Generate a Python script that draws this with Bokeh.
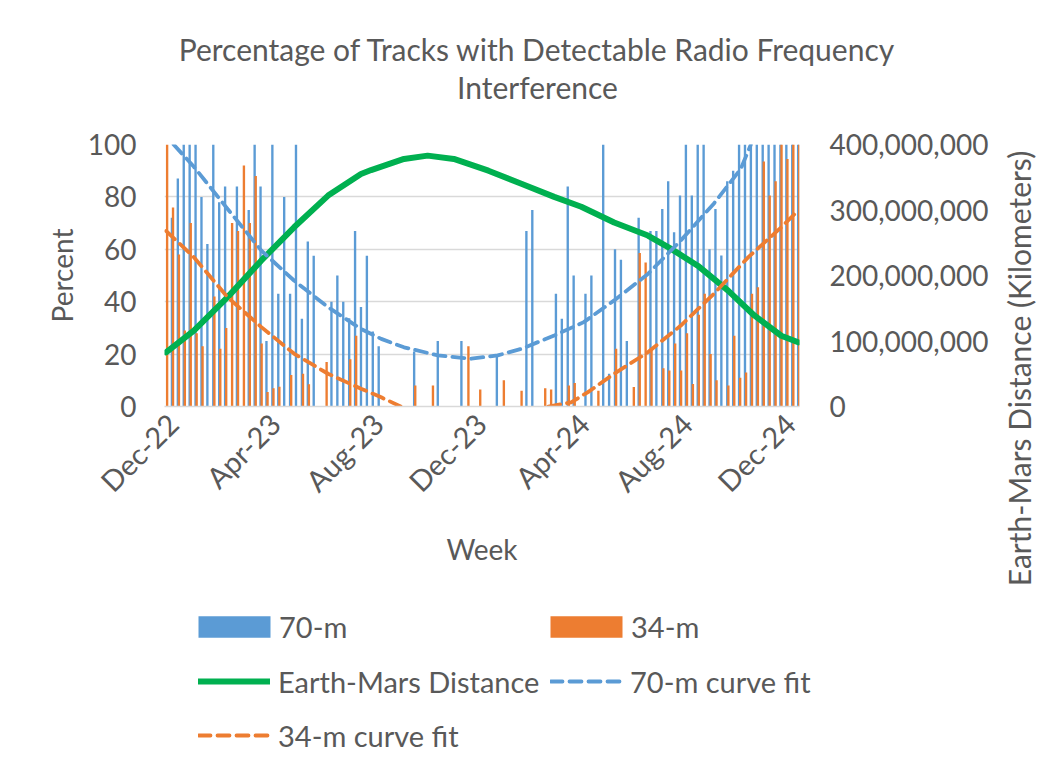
import math
import pandas as pd
from bokeh.plotting import figure
from bokeh.layouts import column, row
from bokeh.core.properties import value
from bokeh.models import (ColumnDataSource, Range1d, LinearAxis, FixedTicker,
                          DatetimeTickFormatter, NumeralTickFormatter, Legend,
                          LegendItem)
from bokeh.embed import file_html
from bokeh.resources import INLINE

# ---------------- data ----------------
first_week = "2022-11-23"
n_weeks = 108

pct_70m = [0, 72, 87, 100, 100, 100, 80, 62, 100, 78,
           84, 0, 84, 0, 75, 100, 84, 25, 100, 43,
           80, 43, 100, 33.5, 63, 57.5, 0, 0, 40, 50,
           40, 33.7, 67, 38, 57.5, 28.6, 23, 0, 0, 0,
           0, 0, 21, 0, 0, 0, 25, 0, 0, 0,
           25, 0, 0, 0, 0, 0, 20, 0, 0, 0,
           0, 67, 75, 0, 0, 0, 43, 33.5, 84, 50,
           0, 43, 50, 0, 100, 12.5, 60, 56, 25, 0,
           72, 0, 67, 67, 75.4, 86, 66.5, 80.5, 100, 80.5,
           100, 100, 60, 75.4, 57.6, 86, 90, 100, 100, 100,
           100, 100, 100, 100, 100, 100, 100, 100]

pct_34m = [100, 76, 58, 29, 70, 28, 23, 0, 42, 22,
           30, 70, 67, 92, 70, 88, 24, 5.5, 7, 7.5,
           0, 12, 0, 12.5, 8.5, 0, 0, 17, 0, 0,
           0, 18, 27, 0, 0, 0, 0, 0, 0, 0,
           0, 0, 8, 0, 0, 8, 0, 0, 0, 0,
           0, 23, 0, 6.5, 0, 0, 0, 10, 0, 0,
           6, 0, 0, 0, 7, 6.5, 0, 0, 8, 9,
           0, 0, 0, 6, 0, 0, 22, 0, 0, 7.4,
           58.6, 55, 22, 0, 14.6, 13.7, 24, 13.7, 28, 8.6,
           35, 43, 20, 10, 0, 8, 27, 11, 13, 43,
           45.5, 93.5, 80.5, 86, 100, 94.5, 100, 100]

dist_dates = ["2022-11-23", "2022-12-26", "2023-02-04", "2023-03-16", "2023-04-24",
              "2023-06-03", "2023-07-12", "2023-07-24", "2023-09-01", "2023-09-29",
              "2023-10-30", "2023-12-10", "2024-01-18", "2024-02-26", "2024-03-29",
              "2024-05-07", "2024-06-16", "2024-07-13", "2024-08-14", "2024-09-19",
              "2024-10-20", "2024-11-21", "2024-12-11"]
dist_km = [82_800_000, 116_000_000, 167_000_000, 223_000_000, 274_000_000,
           322_000_000, 355_000_000, 361_000_000, 378_000_000, 383_000_000,
           378_000_000, 360_000_000, 340_000_000, 320_000_000, 305_000_000,
           281_000_000, 261_000_000, 241_000_000, 215_000_000, 177_000_000,
           139_000_000, 108_000_000, 98_000_000]

fit70_dates = ["2022-12-02", "2022-12-26", "2023-02-04", "2023-03-16", "2023-04-24",
               "2023-06-03", "2023-07-12", "2023-08-05", "2023-09-01", "2023-10-11",
               "2023-11-19", "2023-12-21", "2024-01-18", "2024-02-26", "2024-04-01",
               "2024-05-07", "2024-06-16", "2024-07-25", "2024-09-02", "2024-10-04",
               "2024-10-16"]
fit70_pct = [100, 91.5, 75.4, 59.5, 48, 37.9, 29.6, 25.8, 22.6, 19.5,
             18.2, 19.5, 22, 27.1, 32.2, 40.5, 50.6, 63.4, 77.4, 90.7, 100]

fit34_dates = ["2022-11-23", "2022-12-26", "2023-02-04", "2023-03-16", "2023-04-24",
               "2023-06-03", "2023-07-12", "2023-08-05", "2023-08-28", "2023-11-19",
               "2024-02-19", "2024-03-17", "2024-04-06", "2024-05-07", "2024-06-16",
               "2024-07-25", "2024-09-02", "2024-10-13", "2024-11-21", "2024-12-11"]
fit34_pct = [67, 57, 41.7, 30.3, 20.1, 12.5, 6.8, 3.5, 0, float("nan"),
             0, 1.6, 5.5, 12.5, 20.7, 30.9, 43, 57, 68.4, 74.8]

tick_dates = ["2022-12-01", "2023-04-01", "2023-08-01", "2023-12-01",
              "2024-04-01", "2024-08-01", "2024-12-01"]
pct_ticks = [0, 20, 40, 60, 80, 100]
dist_ticks = [0, 100_000_000, 200_000_000, 300_000_000, 400_000_000]

title_lines = ["Percentage of Tracks with Detectable Radio Frequency", "Interference"]
right_title = "Earth-Mars Distance (Kilometers)"
legend_labels = ["70-m", "34-m", "Earth-Mars Distance", "70-m curve fit", "34-m curve fit"]

# ---------------- style ----------------
FONT = "Lato"
TXT = "#595959"
BLUE = "#5B9BD5"
ORANGE = "#ED7D31"
GREEN = "#00B050"
GRID = "#D9D9D9"
DAY = 86_400_000
DASH = "12 7"
BAR_W = 2.8 * DAY
BAR_SHIFT = 1.3 * DAY

W, H = 1039, 754
TOP_H = 110                  # title strip   (canvas y 0..110)
LEG_TOP = 590                # legend strip  (canvas y 590..754)
RIGHT_W = 47                 # right-axis-title strip
MW, MH = W - RIGHT_W, LEG_TOP - TOP_H
LH = H - LEG_TOP
FL, FR = 164, 799            # frame left / right (canvas px)
FT, FB = 144 - TOP_H, 406 - TOP_H


def ms(d):
    return pd.Timestamp(d).value / 1e6


def blank_fig(w, h):
    f = figure(width=w, height=h, output_backend="svg", toolbar_location=None,
               x_axis_location=None, y_axis_location=None, min_border=0,
               x_range=Range1d(0, w), y_range=Range1d(0, h))
    f.outline_line_color = None
    f.grid.visible = False
    f.background_fill_color = "white"
    f.border_fill_color = "white"
    return f


# ---- title strip ----
tf = blank_fig(MW, TOP_H)
tf.text(x=[537, 537], y=[TOP_H - 48, TOP_H - 86], text=title_lines,
        text_font=value(FONT), text_font_size="30px", text_color=TXT,
        text_align="center", text_baseline="middle")

# ---- main chart ----
weeks = pd.date_range(first_week, periods=n_weeks, freq="7D")
wk_ms = [ms(d) for d in weeks]
src = ColumnDataSource(dict(xb=wk_ms, xo=[v + BAR_SHIFT for v in wk_ms],
                            b=pct_70m, o=pct_34m))
dist_x = [ms(d) for d in dist_dates]
fit70_x = [ms(d) for d in fit70_dates]
fit34_x = [ms(d) for d in fit34_dates]

x_start = ms(first_week) - 1.8 * DAY
x_end = ms(first_week) + 750.6 * DAY

p = figure(width=MW, height=MH, x_axis_type="datetime", output_backend="svg",
           toolbar_location=None, x_range=Range1d(x_start, x_end),
           y_range=Range1d(0, 100),
           min_border_left=FL, min_border_right=MW - FR,
           min_border_top=FT, min_border_bottom=MH - FB)
p.outline_line_color = None
p.background_fill_color = "white"
p.border_fill_color = "white"
p.extra_y_ranges = {"dist": Range1d(0, 400_000_000)}


def draw_series(f, **kw):
    """Draw the five series on figure f; returns the renderers."""
    return [
        f.vbar(x="xb", top="b", width=BAR_W, source=src, fill_color=BLUE,
               line_color=None),
        f.vbar(x="xo", top="o", width=BAR_W, source=src, fill_color=ORANGE,
               line_color=None),
        f.line(dist_x, dist_km, line_color=GREEN, line_width=6, line_cap="round",
               line_join="round", **kw),
        f.line(fit70_x, fit70_pct, line_color=BLUE, line_width=3.8,
               line_dash=DASH, line_cap="round"),
        f.line(fit34_x, fit34_pct, line_color=ORANGE, line_width=3.8,
               line_dash=DASH, line_cap="round"),
    ]


draw_series(p, y_range_name="dist")

p.xaxis.ticker = FixedTicker(ticks=[ms(d) for d in tick_dates])
fmt = "%b-%y"
p.xaxis.formatter = DatetimeTickFormatter(
    microseconds=fmt, milliseconds=fmt, seconds=fmt, minsec=fmt, minutes=fmt,
    hourmin=fmt, hours=fmt, days=fmt, months=fmt, years=fmt)
p.xaxis.major_label_orientation = math.pi / 4
p.yaxis.ticker = FixedTicker(ticks=pct_ticks)

ax_r = LinearAxis(y_range_name="dist", ticker=FixedTicker(ticks=dist_ticks),
                  formatter=NumeralTickFormatter(format="0,0"))
p.add_layout(ax_r, "right")

for ax in [p.xaxis[0], p.yaxis[0], ax_r]:
    ax.major_label_text_font = FONT
    ax.major_label_text_font_size = "28px"
    ax.major_label_text_color = TXT
    ax.major_tick_line_color = None
    ax.minor_tick_line_color = None
    ax.major_tick_out = 0
    ax.major_tick_in = 0
    ax.minor_tick_out = 0
    ax.minor_tick_in = 0
    ax.axis_label_text_font = FONT
    ax.axis_label_text_font_size = "28px"
    ax.axis_label_text_font_style = "normal"
    ax.axis_label_text_color = TXT
p.xaxis[0].major_label_text_font_size = "29px"
p.yaxis[0].axis_line_color = None
ax_r.axis_line_color = None
p.xaxis[0].axis_line_color = GRID
p.xaxis[0].axis_line_width = 1.3
p.yaxis[0].major_label_standoff = 28
ax_r.major_label_standoff = 30
p.xaxis[0].major_label_standoff = 12

p.yaxis[0].axis_label = "Percent"
p.yaxis[0].axis_label_standoff = 6
p.xaxis[0].axis_label = "Week"
p.xaxis[0].axis_label_standoff = 18

p.xgrid.grid_line_color = None
p.ygrid.grid_line_color = GRID
p.ygrid.grid_line_width = 1.3

# ---- legend strip (swatches use the same series, out of this strip's view) ----
lf = blank_fig(MW, LH)
sw = draw_series(lf)
col_x = [198, 550]
row_c = [626, 681, 735]
ITEM_H = 35
for i, (lbl, r) in enumerate(zip(legend_labels, sw)):
    cx = col_x[i % 2]
    cy = row_c[i // 2]
    is_box = i < 2          # column swatches are drawn inset by 10 % per side
    gw, gh = (90, 27) if is_box else (72, 20)
    lf.add_layout(Legend(items=[LegendItem(label=lbl, renderers=[r])],
                         location=(cx - (9 if is_box else 0), H - cy - ITEM_H / 2),
                         glyph_width=gw, glyph_height=gh, label_text_font=FONT,
                         label_text_font_size="29px", label_text_color=TXT,
                         label_standoff=0 if is_box else 8, padding=0, margin=0,
                         border_line_color=None, background_fill_alpha=0))

# ---- right axis title strip (full height) ----
rf = blank_fig(RIGHT_W, H)
rf.text(x=[1018 - MW], y=[H - 368], text=[right_title],
        text_font=value(FONT), text_font_size="30px", text_color=TXT,
        text_align="center", text_baseline="middle", angle=math.pi / 2)

layout = row(column(tf, row(p), lf, spacing=0), rf, spacing=0)
open("out.html", "w").write(file_html(layout, INLINE))
